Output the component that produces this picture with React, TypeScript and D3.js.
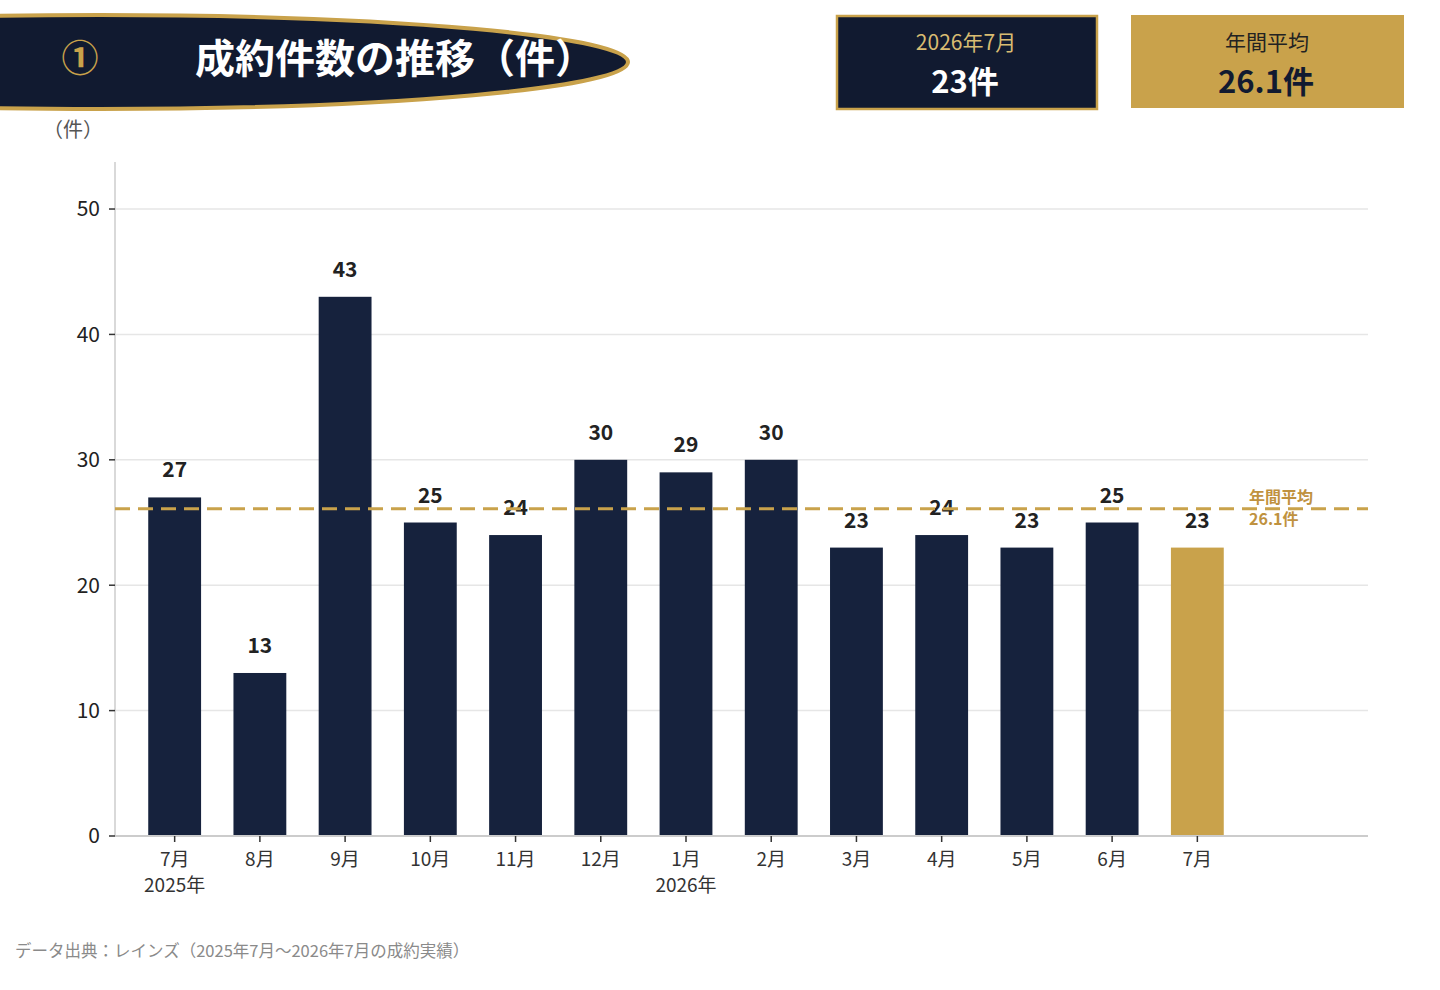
import * as d3 from "d3";

const MONTHS = ["7月", "8月", "9月", "10月", "11月", "12月", "1月", "2月", "3月", "4月", "5月", "6月", "7月"];
const YEARS = ["2025年", "", "", "", "", "", "2026年", "", "", "", "", "", ""];
const DEALS = [27, 13, 43, 25, 24, 30, 29, 30, 23, 24, 23, 25, 23];
const AVERAGE = 26.1;
const Y_TICKS = [0, 10, 20, 30, 40, 50];

const NAVY = "#16223d";
const DARK = "#111a30";
const GOLD = "#c9a24b";
const FONT = "'Noto Sans CJK JP', 'Noto Sans', sans-serif";

const W = 1440;
const H = 990;
const left = 115;
const right = 1368;
const top = 162;
const bottom = 836;

export default function App() {
  const keys = MONTHS.map((m, i) => `${i}`);
  const x = d3
    .scaleBand<string>()
    .domain(keys)
    .range([left, 1257])
    .paddingInner(0.38)
    .paddingOuter(0.39);
  const y = d3
    .scaleLinear()
    .domain([0, (d3.max(DEALS) ?? 0) * 1.25])
    .range([bottom, top]);

  const last = DEALS.length - 1;
  const avgY = y(AVERAGE);

  return (
    <div>
      <style>{`body{margin:0}`}</style>
      <svg width={W} height={H} style={{ display: "block", fontFamily: FONT }}>
        <rect width={W} height={H} fill="#fff" />

        {/* header banner */}
        <ellipse cx={100} cy={62} rx={528} ry={47} fill={DARK} stroke={GOLD} strokeWidth={4} />
        <text x={80} y={59} dy="0.35em" textAnchor="middle" fill={GOLD} fontSize={37} fontWeight={700}>
          ①
        </text>
        <text x={195} y={59} dy="0.35em" fill="#fff" fontSize={40} fontWeight={700}>
          成約件数の推移（件）
        </text>

        {/* KPI boxes */}
        <rect x={837} y={16} width={260} height={93} fill={DARK} stroke={GOLD} strokeWidth={2.5} />
        <text x={966} y={43} dy="0.35em" textAnchor="middle" fill="#d9bc72" fontSize={21}>
          2026年7月
        </text>
        <text x={965} y={82} dy="0.35em" textAnchor="middle" fill="#fff" fontSize={31} fontWeight={700}>
          {DEALS[last]}件
        </text>
        <rect x={1131} y={15} width={273} height={93} fill={GOLD} />
        <text x={1267} y={43} dy="0.35em" textAnchor="middle" fill="#222" fontSize={21}>
          年間平均
        </text>
        <text x={1266} y={82} dy="0.35em" textAnchor="middle" fill={DARK} fontSize={31} fontWeight={700}>
          {AVERAGE}件
        </text>

        {/* unit */}
        <text x={73} y={130} dy="0.35em" textAnchor="middle" fill="#555" fontSize={20}>
          （件）
        </text>

        {/* grid */}
        {Y_TICKS.filter((t) => t > 0).map((t) => (
          <line key={t} x1={left} x2={right} y1={y(t)} y2={y(t)} stroke="#e6e6e6" strokeWidth={1.5} />
        ))}

        {/* y axis */}
        <line x1={left} x2={left} y1={top} y2={bottom} stroke="#cccccc" strokeWidth={1.5} />
        {Y_TICKS.map((t) => (
          <g key={t}>
            <line x1={left - 6} x2={left} y1={y(t)} y2={y(t)} stroke="#333" strokeWidth={1.5} />
            <text x={left - 15} y={y(t)} dy="0.35em" textAnchor="end" fill="#222" fontSize={21}>
              {t}
            </text>
          </g>
        ))}

        {/* bars */}
        {DEALS.map((v, i) => (
          <g key={i}>
            <rect
              x={x(keys[i])}
              y={y(v)}
              width={x.bandwidth()}
              height={bottom - y(v)}
              fill={i === last ? GOLD : NAVY}
            />
            <text
              x={(x(keys[i]) ?? 0) + x.bandwidth() / 2}
              y={y(v) - 20}
              textAnchor="middle"
              fill="#222"
              fontSize={21}
              fontWeight={700}
            >
              {v}
            </text>
          </g>
        ))}

        {/* average line */}
        <line
          x1={left}
          x2={right}
          y1={avgY}
          y2={avgY}
          stroke={GOLD}
          strokeWidth={3}
          strokeDasharray="15 8"
        />
        <text x={1249} y={497} dy="0.35em" fill="#c0923f" fontSize={16} fontWeight={700}>
          年間平均
        </text>
        <text x={1249} y={519} dy="0.35em" fill="#c0923f" fontSize={16} fontWeight={700}>
          {AVERAGE}件
        </text>

        {/* x axis */}
        <line x1={left} x2={right} y1={bottom} y2={bottom} stroke="#cccccc" strokeWidth={2} />
        {MONTHS.map((m, i) => {
          const cx = (x(keys[i]) ?? 0) + x.bandwidth() / 2;
          return (
            <g key={i}>
              <line x1={cx} x2={cx} y1={bottom} y2={bottom + 6} stroke="#333" strokeWidth={1.5} />
              <text x={cx} y={859} dy="0.35em" textAnchor="middle" fill="#333" fontSize={19}>
                {m}
              </text>
              {YEARS[i] && (
                <text x={cx} y={885} dy="0.35em" textAnchor="middle" fill="#333" fontSize={19}>
                  {YEARS[i]}
                </text>
              )}
            </g>
          );
        })}

        {/* source */}
        <text x={15} y={951} dy="0.35em" fill="#8a8a8a" fontSize={16.5}>
          データ出典：レインズ（2025年7月〜2026年7月の成約実績）
        </text>
      </svg>
    </div>
  );
}
